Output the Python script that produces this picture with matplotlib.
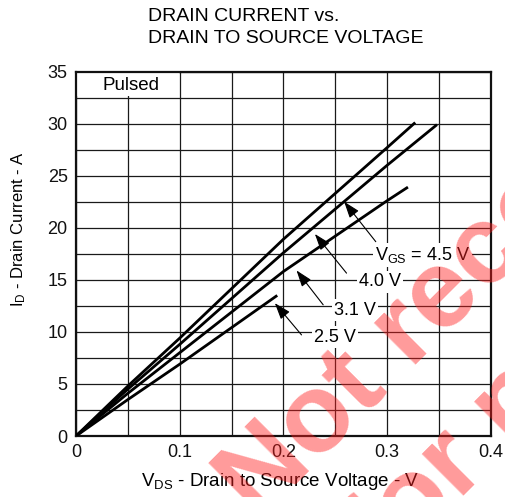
import matplotlib
matplotlib.use("Agg")
import matplotlib.pyplot as plt
from matplotlib.patches import Rectangle
import numpy as np

plt.rcParams['font.family'] = ['Liberation Sans', 'DejaVu Sans']
plt.rcParams['mathtext.fontset'] = 'custom'
plt.rcParams['mathtext.rm'] = 'Liberation Sans'
plt.rcParams['mathtext.it'] = 'Liberation Sans'

# ---- data ----
vds_45 = [0, 0.05, 0.1, 0.2, 0.3, 0.327]
id_45 = [0, 4.8, 9.4, 18.9, 27.7, 30.1]
vds_40 = [0, 0.05, 0.1, 0.2, 0.3, 0.348]
id_40 = [0, 4.5, 8.8, 17.6, 26.0, 29.9]
vds_31 = [0, 0.05, 0.1, 0.2, 0.3, 0.320]
id_31 = [0, 4.1, 8.0, 15.8, 22.6, 23.9]
vds_25 = [0, 0.05, 0.1, 0.194]
id_25 = [0, 3.5, 6.9, 13.5]

curve_labels = [r'V$_{\mathrm{GS}}$ = 4.5 V', '4.0 V', '3.1 V', '2.5 V']
label_pos = [(0.334, 17.4), (0.293, 14.8), (0.269, 12.1), (0.250, 9.5)]
arrow_tips = [(0.2585, 22.5), (0.2303, 19.4), (0.2126, 15.9), (0.1917, 12.76)]
arrow_tails = [(0.289, 18.66), (0.2608, 15.64), (0.2383, 12.6), (0.2174, 9.71)]

x_ticks = [0, 0.1, 0.2, 0.3, 0.4]
x_tick_labels = ['0', '0.1', '0.2', '0.3', '0.4']
y_ticks = [0, 5, 10, 15, 20, 25, 30, 35]

fig = plt.figure(figsize=(5.06, 4.97), dpi=100)
ax = fig.add_axes([0.1502, 0.1227, 0.8200, 0.7334])

ax.set_xlim(0, 0.4)
ax.set_ylim(0, 35)
ax.set_xticks(x_ticks)
ax.set_xticklabels(x_tick_labels)
ax.set_yticks(y_ticks)
ax.set_xticks(np.arange(0, 0.4001, 0.05), minor=True)
ax.set_yticks(np.arange(0, 35.01, 2.5), minor=True)
ax.tick_params(which='both', length=0, labelsize=13, colors='#111111', pad=6)
ax.grid(which='both', color='#1a1a1a', linewidth=0.9)
ax.set_axisbelow(True)
for s in ax.spines.values():
    s.set_linewidth(1.6)
    s.set_color('#111111')

# Pulsed box
ax.add_patch(Rectangle((0.0005, 32.62), 0.0985, 2.35, facecolor='white',
                       edgecolor='none', zorder=1))
ax.text(0.053, 33.65, 'Pulsed', ha='center', va='center', fontsize=13.5, zorder=3)

for xs, ys in [(vds_45, id_45), (vds_40, id_40), (vds_31, id_31), (vds_25, id_25)]:
    ax.plot(xs, ys, color='black', linewidth=2.0, zorder=4, solid_capstyle='butt')

for lab, pos, tip, tail in zip(curve_labels, label_pos, arrow_tips, arrow_tails):
    ax.text(pos[0], pos[1], lab, ha='center', va='center', fontsize=13,
            zorder=3, bbox=dict(facecolor='white', edgecolor='none', pad=1.5))
    ax.annotate('', xy=tip, xytext=tail,
                arrowprops=dict(arrowstyle='-|>,head_length=1.0,head_width=0.35',
                                color='black', lw=0.8, shrinkA=0, shrinkB=0),
                zorder=5)

fig.text(0.2925, 0.966, 'DRAIN CURRENT vs.', ha='left', va='center', fontsize=14)
fig.text(0.2925, 0.9235, 'DRAIN TO SOURCE VOLTAGE', ha='left', va='center', fontsize=14)

fig.text(0.553, 0.031, r'V$_{\mathrm{DS}}$ - Drain to Source Voltage - V', ha='center',
         va='center', fontsize=13.5)
fig.text(0.036, 0.539, r'I$_{\mathrm{D}}$ - Drain Current - A', ha='center',
         va='center', fontsize=12, rotation=90)

# watermark
fig.text(0.51, -0.05, 'Not recommended', color='#ff2020', alpha=0.45,
         fontsize=80, fontweight='bold', rotation=45, rotation_mode='anchor',
         ha='left', va='baseline', zorder=10)
fig.text(0.761, -0.157, 'for new design', color='#ff2020', alpha=0.45,
         fontsize=80, fontweight='bold', rotation=45, rotation_mode='anchor',
         ha='left', va='baseline', zorder=10)

fig.savefig('out.png', dpi=100)
